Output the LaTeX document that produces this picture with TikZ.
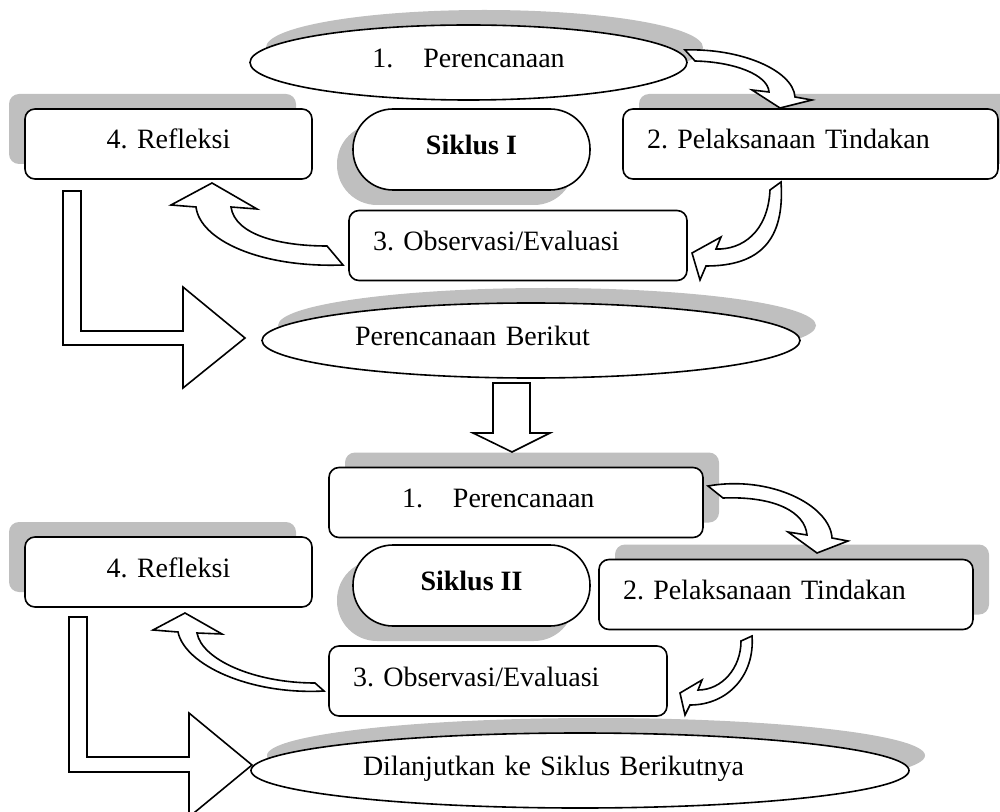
\documentclass[tikz,border=0pt]{standalone}
\usepackage{fontspec}
\setmainfont{Liberation Serif}
\usetikzlibrary{shapes, shadows}
\definecolor{shadowgray}{RGB}{191,191,191}
\begin{document}
\frenchspacing
\begin{tikzpicture}[x=0.5pt, y=-0.5pt, line width=0.8pt,
    font=\fontsize{14}{17}\selectfont,
    every node/.style={text height=10pt, text depth=5pt},
    box/.style={draw, fill=white, rounded corners=5pt, minimum height=35pt, inner xsep=12pt, align=left},
    pill/.style={draw, fill=white, rounded corners=20pt, minimum width=118.5pt, minimum height=40.5pt, font=\fontsize{14}{17}\selectfont\bfseries},
    oval/.style={draw, fill=white, ellipse, inner sep=0pt, minimum height=37.5pt, align=left},
    lift ur/.style={drop shadow={shadow xshift=8pt, shadow yshift=7.5pt, opacity=1, draw=none, fill=shadowgray}},
    lift ul/.style={drop shadow={shadow xshift=-8pt, shadow yshift=7.5pt, opacity=1, draw=none, fill=shadowgray}},
    lift dl/.style={drop shadow={shadow xshift=-8pt, shadow yshift=-7.5pt, opacity=1, draw=none, fill=shadowgray}},
    block/.style={draw, fill=white, line join=miter}]

\useasboundingbox (0,0) rectangle (1000,812);

\node [oval, lift ur, minimum width=218.5pt, align=center] (1) at (468.5,62.5)  {1.\hspace{15pt}Perencanaan};
\node [box,  lift ul, minimum width=143.5pt, text width=119.5pt, align=center] (4) at (168.5,144) {4. Refleksi};
\node [pill, lift dl                                      ] (0) at (471.5,149.5) {Siklus I};
\node [box,  lift ur, text width=163.5pt                  ] (2) at (810.5,144) {2. Pelaksanaan Tindakan};
\node [box,           text width=145pt                    ] (3) at (518,245.5) {3. Observasi/Evaluasi};
\node [oval, lift ur, minimum width=269pt, text width=176pt] (5) at (531,340.5) {Perencanaan Berikut};

\node [box,  lift ur, text width=114pt, inner xsep=36.5pt ] (11) at (516,502.5) {1.\hspace{15pt}Perencanaan};
\node [pill, lift dl                                      ] (10) at (471.5,585.5) {Siklus II};
\node [box,  lift ur, text width=163pt                    ] (12) at (786,594.5) {2. Pelaksanaan Tindakan};
\node [box,  lift ul, minimum width=143.5pt, text width=119.5pt, align=center] (14) at (168.5,572) {4. Refleksi};
\node [oval, lift ur, minimum width=329pt, text width=217pt] (15) at (580,770.5) {Dilanjutkan ke Siklus Berikutnya};
\node [box,           text width=145pt                    ] (13) at (498,681) {3. Observasi/Evaluasi};

\draw [block] (685,50) .. controls (740,48) and (793,70) .. (795,97) -- (812,100) -- (780,108) -- (752,90) -- (769,92) .. controls (768,75) and (735,62) .. (695,61) -- cycle;
\draw [block] (781,182) .. controls (785,240) and (760,266) .. (706,266) -- (700,280) -- (692,253) -- (721,237) -- (716,249) .. controls (742,250) and (768,232) .. (770,190) -- cycle;
\draw [block] (343,265) .. controls (260,268) and (200,240) .. (196,207) -- (171,205) -- (212,183) -- (257,209) -- (231,207) .. controls (235,235) and (280,246) .. (327,246) -- cycle;
\draw [block] (63,191) -- (81,191) -- (81,331) -- (183,331) -- (183,287) -- (245,338) -- (183,388) -- (183,345) -- (63,345) -- cycle;
\draw [block] (493,383) -- (530,383) -- (530,433) -- (550,433) -- (512,452) -- (473,433) -- (493,433) -- cycle;

\draw [block] (708,486) .. controls (770,475) and (830,505) .. (832,538) -- (848,541) -- (817,553) -- (788,532) -- (807,535) .. controls (805,512) and (775,496) .. (723,498) -- cycle;
\draw [block] (752,636) .. controls (755,675) and (728,705) .. (690,705) -- (685,715) -- (680,693) -- (702,680) -- (698,690) .. controls (722,690) and (741,668) .. (741,641) -- cycle;
\draw [block] (324,691) .. controls (250,695) and (185,665) .. (178,632) -- (153,630) -- (185,613) -- (222,634) -- (197,633) .. controls (202,660) and (255,683) .. (315,683) -- cycle;
\draw [block] (69,617) -- (87,617) -- (87,757) -- (189,757) -- (189,713) -- (252,765) -- (189,817) -- (189,772) -- (69,772) -- cycle;

\end{tikzpicture}
\end{document}
